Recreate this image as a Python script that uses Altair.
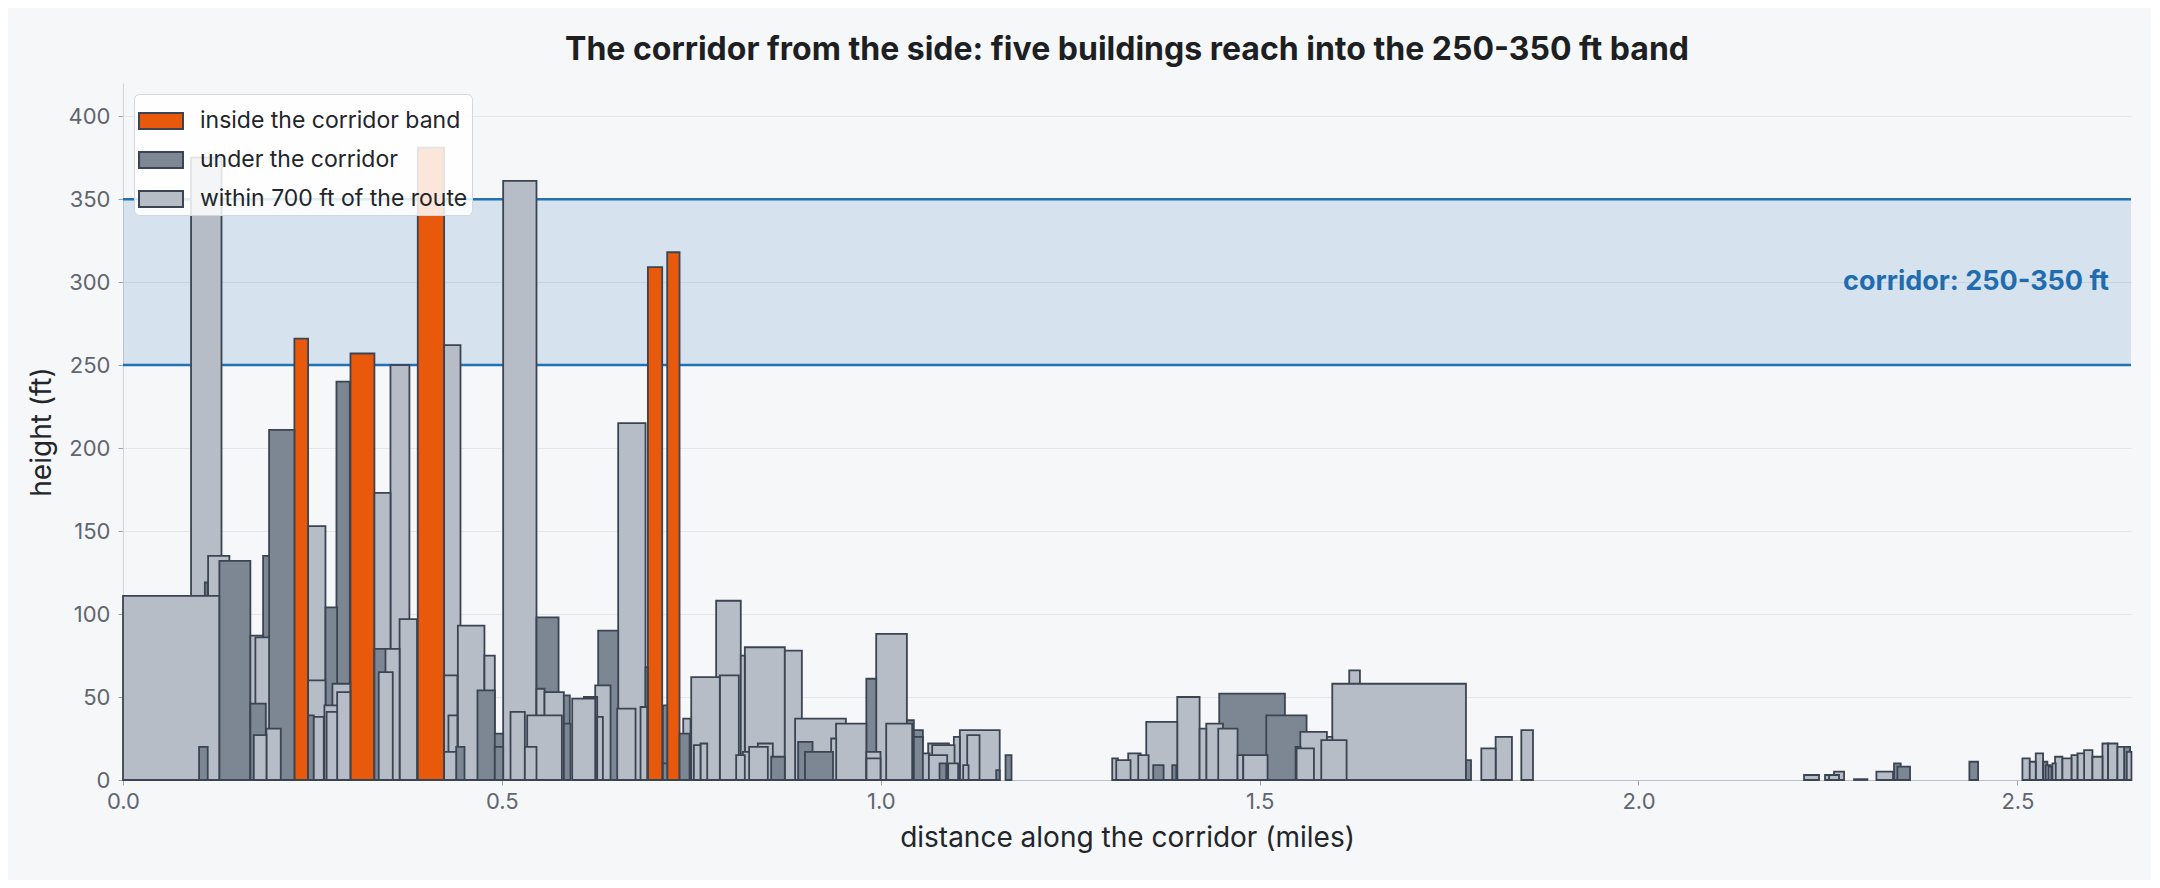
import pandas as pd
import altair as alt

# buildings along the corridor: start / end (miles) and height (ft), one set per class
in_start = [0.2262, 0.3002, 0.3890, 0.6927, 0.7182]
in_end = [0.2443, 0.3318, 0.4238, 0.7116, 0.7345]
in_height = [266, 257, 381, 309, 318]

under_start = [0.1004, 0.1080, 0.1272, 0.1849, 0.1681, 0.1928, 0.2443, 0.2672, 0.2817,
               0.3318, 0.4397, 0.4678, 0.4907, 0.4907, 0.5457, 0.5818, 0.5818, 0.6082,
               0.6271, 0.6896, 0.7125, 0.7125, 0.7345, 0.8554, 0.8910, 0.9000, 0.9810,
               1.0345, 1.0437, 1.0437, 1.0776, 1.1524, 1.1647, 1.3596, 1.3847, 1.4467,
               1.5088, 1.5475, 1.7723, 2.3373, 2.3417, 2.4367, 2.5340, 2.5409, 2.6409]
under_end = [0.1118, 0.1118, 0.1681, 0.1928, 0.1884, 0.2262, 0.2518, 0.2826, 0.2993,
             0.3540, 0.4507, 0.4907, 0.5017, 0.5017, 0.5748, 0.5897, 0.5906, 0.6258,
             0.6535, 0.6927, 0.7182, 0.7182, 0.7477, 0.8734, 0.9100, 0.9370, 0.9940,
             1.0437, 1.0556, 1.0556, 1.0864, 1.1570, 1.1726, 1.3733, 1.3900, 1.5334,
             1.5620, 1.5541, 1.7790, 2.3461, 2.3584, 2.4482, 2.5397, 2.5453, 2.6488]
under_height = [20, 119, 132, 135, 46, 211, 39, 104, 240,
                79, 20, 54, 28, 20, 98, 51, 34, 50,
                90, 68, 45, 10, 28, 14, 23, 17, 61,
                36, 30, 26, 10, 6, 15, 9, 9, 52,
                39, 20, 12, 10, 8, 11, 11, 8, 20]

near_start = [0.0000, 0.0898, 0.1123, 0.1681, 0.1747, 0.1726, 0.1893, 0.2443, 0.2443,
              0.2518, 0.2658, 0.2687, 0.2764, 0.2826, 0.3318, 0.3464, 0.3375, 0.3530,
              0.3650, 0.4238, 0.4238, 0.4295, 0.4238, 0.4419, 0.4770, 0.5017, 0.5114,
              0.5303, 0.5457, 0.5563, 0.5334, 0.5928, 0.6232, 0.6258, 0.6535, 0.6522,
              0.6830, 0.7393, 0.7499, 0.7534, 0.7621, 0.7828, 0.7876, 0.8153, 0.8206,
              0.8734, 0.8092, 0.8180, 0.8263, 0.8378, 0.8870, 0.9346, 0.9410, 0.9940,
              0.9810, 0.9812, 1.0072, 1.0556, 1.0626, 1.0679, 1.0635, 1.0890, 1.0965,
              1.1044, 1.1141, 1.1088, 1.3055, 1.3108, 1.3266, 1.3398, 1.3504, 1.3913,
              1.4208, 1.4296, 1.4454, 1.4709, 1.4784, 1.5537, 1.5488, 1.5888, 1.5814,
              1.5959, 1.6183, 1.7926, 1.8115, 1.8454, 2.2185, 2.2462, 2.2515, 2.2581,
              2.2845, 2.3140, 2.5067, 2.5164, 2.5243, 2.5375, 2.5463, 2.5498, 2.5595,
              2.5714, 2.5793, 2.5881, 2.5991, 2.6123, 2.6198, 2.6321, 2.6444]
near_end = [0.1270, 0.1300, 0.1404, 0.1850, 0.1928, 0.1893, 0.2082, 0.2672, 0.2672,
            0.2650, 0.2826, 0.2826, 0.3000, 0.3000, 0.3530, 0.3650, 0.3560, 0.3780,
            0.3880, 0.4454, 0.4413, 0.4413, 0.4397, 0.4770, 0.4907, 0.5457, 0.5303,
            0.5457, 0.5563, 0.5818, 0.5792, 0.6232, 0.6434, 0.6333, 0.6896, 0.6764,
            0.6918, 0.7490, 0.7876, 0.7621, 0.7710, 0.8153, 0.8127, 0.8206, 0.8734,
            0.8959, 0.8206, 0.8263, 0.8510, 0.8576, 0.9540, 0.9412, 0.9810, 1.0345,
            0.9997, 0.9997, 1.0415, 1.0644, 1.0900, 1.0974, 1.0877, 1.1022, 1.1044,
            1.1570, 1.1304, 1.1159, 1.3130, 1.3297, 1.3430, 1.3535, 1.3913, 1.4208,
            1.4296, 1.4516, 1.4709, 1.4784, 1.5105, 1.5888, 1.5717, 1.5959, 1.6148,
            1.7723, 1.6324, 1.8115, 1.8330, 1.8608, 2.2383, 2.2537, 2.2647, 2.2713,
            2.3021, 2.3360, 2.5164, 2.5243, 2.5340, 2.5441, 2.5507, 2.5595, 2.5714,
            2.5793, 2.5881, 2.5991, 2.6123, 2.6198, 2.6321, 2.6409, 2.6506]
near_height = [111, 375, 135, 87, 86, 27, 31, 153, 60,
               38, 45, 41, 58, 53, 173, 79, 65, 250,
               97, 262, 63, 39, 17, 93, 75, 361, 41,
               20, 55, 53, 39, 49, 57, 38, 215, 43,
               44, 37, 62, 21, 22, 108, 63, 75, 80,
               78, 15, 17, 20, 22, 37, 25, 34, 88,
               17, 13, 34, 16, 22, 21, 15, 10, 26,
               30, 27, 9, 13, 12, 16, 15, 35, 50,
               31, 34, 31, 15, 15, 29, 19, 26, 24,
               58, 66, 19, 26, 30, 3, 3, 3, 5,
               0.5, 5, 13, 11, 16, 9, 10, 14, 13,
               15, 16, 18, 14, 22, 22, 20, 17]

classes = ["inside the corridor band", "under the corridor", "within 700 ft of the route"]
class_colors = ["#e8590c", "#7d8793", "#b6bdc6"]

band_low = [250]
band_high = [350]
band_label = ["corridor: 250-350 ft"]

frames = []
for name, s, e, h in [(classes[0], in_start, in_end, in_height),
                      (classes[1], under_start, under_end, under_height),
                      (classes[2], near_start, near_end, near_height)]:
    frames.append(pd.DataFrame({"start": s, "end": e, "height": h, "kind": name}))
buildings = pd.concat(frames, ignore_index=True)
buildings["base"] = 0
# tallest first so the short ones stay visible on top
buildings = buildings.sort_values("height", ascending=False, kind="stable")

W = 2008
H = 697
FONT = "Inter"

xs = alt.Scale(domain=[0, 2.65], nice=False, zero=False)
ys = alt.Scale(domain=[0, 420], nice=False)

band_df = pd.DataFrame({"lo": band_low, "hi": band_high, "mid": [(band_low[0] + band_high[0]) / 2],
                        "label": band_label})

band = alt.Chart(band_df).mark_rect(color="#2171b5", opacity=0.15).encode(
    x=alt.value(0), x2=alt.value(W),
    y=alt.Y("lo:Q", scale=ys), y2="hi:Q"
)
rule_lo = alt.Chart(band_df).mark_rule(color="#2171b5", strokeWidth=2.5).encode(
    x=alt.value(0), x2=alt.value(W), y=alt.Y("lo:Q", scale=ys)
)
rule_hi = alt.Chart(band_df).mark_rule(color="#2171b5", strokeWidth=2.5).encode(
    x=alt.value(0), x2=alt.value(W), y=alt.Y("hi:Q", scale=ys)
)
band_text = alt.Chart(band_df).mark_text(
    align="right", baseline="middle", font=FONT, fontSize=27, fontWeight="bold", color="#1f6db0"
).encode(x=alt.value(W - 22), y=alt.Y("mid:Q", scale=ys), text="label:N")

bars = alt.Chart(buildings).mark_rect(stroke="#3b4452", strokeWidth=1.8, opacity=1).encode(
    x=alt.X("start:Q", scale=xs,
            axis=alt.Axis(title="distance along the corridor (miles)", values=[0, 0.5, 1, 1.5, 2, 2.5],
                          format=".1f", grid=False, labelFlush=False)),
    x2="end:Q",
    y=alt.Y("height:Q", scale=ys,
            axis=alt.Axis(title="height (ft)", values=[0, 50, 100, 150, 200, 250, 300, 350, 400])),
    y2="base:Q",
    color=alt.Color("kind:N", scale=alt.Scale(domain=classes, range=class_colors),
                    legend=alt.Legend(title=None, orient="top-left")),
)

chart = alt.layer(band, rule_lo, rule_hi, bars, band_text).properties(
    width=W, height=H,
    title=alt.Title("The corridor from the side: five buildings reach into the 250-350 ft band",
                    font=FONT, fontSize=32, fontWeight="bold", color="#1d1f23", anchor="middle", offset=16),
    autosize=alt.AutoSizeParams(type="none"),
    padding={"left": 115, "top": 75, "right": 20, "bottom": 100},
    background="#f6f7f9",
).configure_view(stroke=None).configure_axis(
    labelFont=FONT, titleFont=FONT, labelFontSize=22, titleFontSize=28,
    labelColor="#5f6670", titleColor="#22252a", titleFontWeight="normal",
    domainColor="#c3c9d1", tickColor="#9aa1ab", tickSize=5, gridColor="#e3e6ea",
).configure_axisY(labelPadding=8, titlePadding=12, domainColor="#d0d5dc").configure_axisX(
    labelPadding=6, titlePadding=12, domainColor="#b9c0c9"
).configure_legend(
    labelFont=FONT, labelFontSize=23, labelColor="#22252a", labelLimit=0,
    symbolType="M-1,-0.36H1V0.36H-1Z", symbolSize=1936, symbolStrokeWidth=2,
    symbolStrokeColor="#3b4452", symbolOpacity=1, labelOffset=16,
    fillColor="rgba(255,255,255,0.85)", strokeColor="#d3d8de", cornerRadius=5,
    padding=4, offset=11, rowPadding=4,
)

chart.save("out.html", embed_options={"renderer": "svg", "actions": False})
